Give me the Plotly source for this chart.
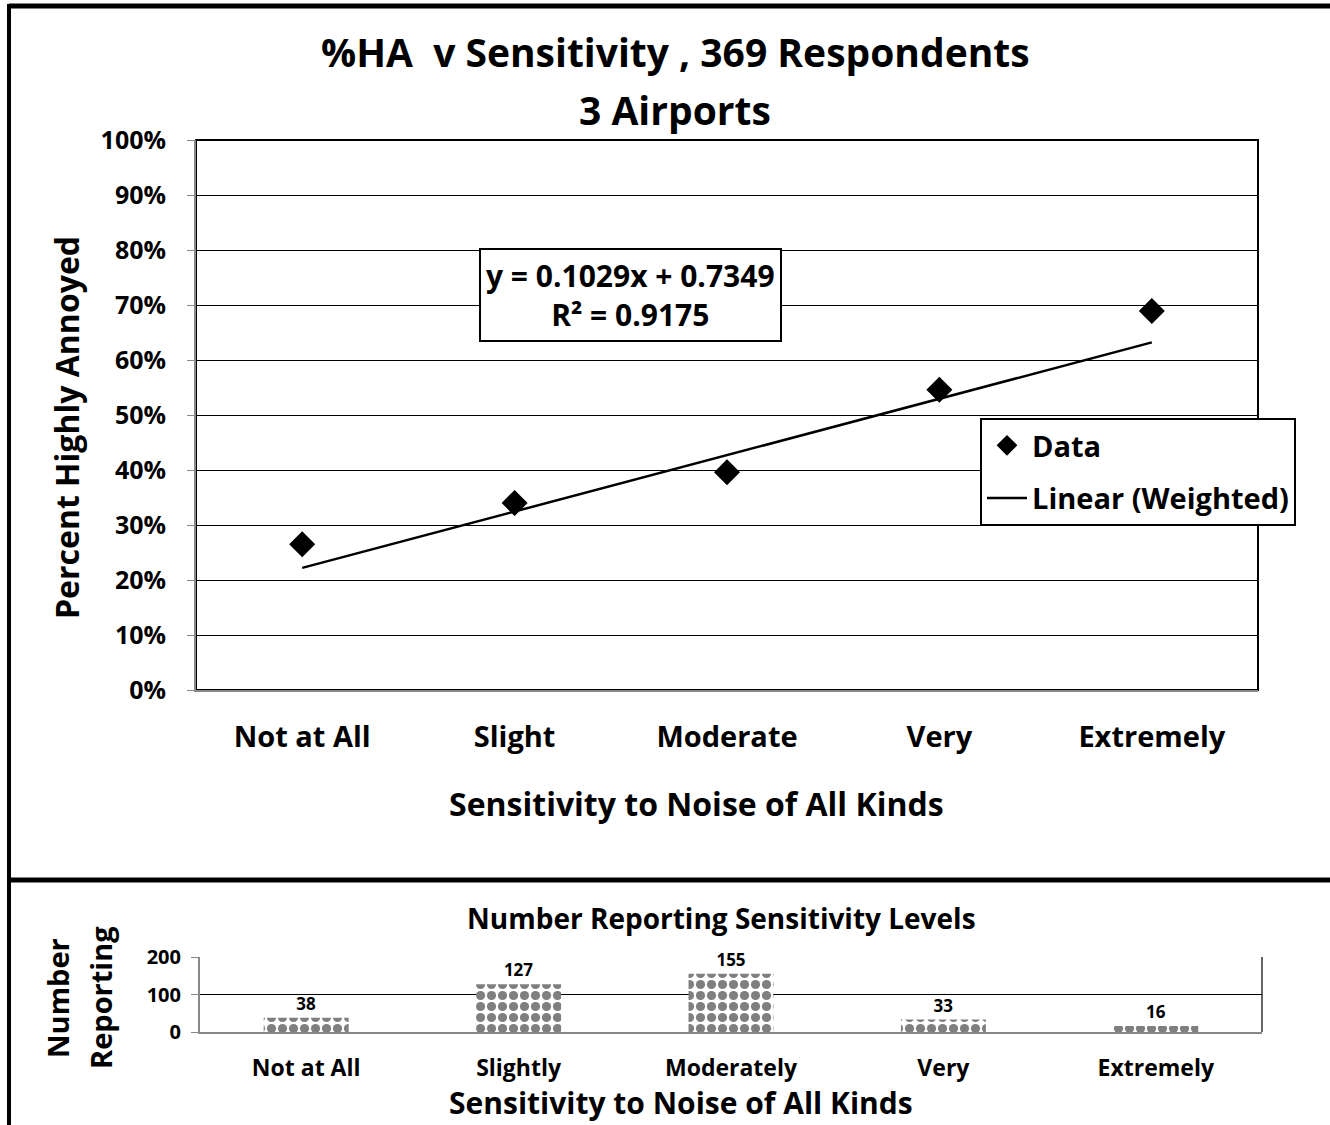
import plotly.graph_objects as go

# top chart data
levels = ['Not at All', 'Slight', 'Moderate', 'Very', 'Extremely']
pct_ha = [0.265, 0.340, 0.396, 0.546, 0.689]
trend_x = ['Not at All', 'Extremely']
trend_y = [0.222, 0.632]

# bottom chart data
levels2 = ['Not at All', 'Slightly', 'Moderately', 'Very', 'Extremely']
n_reporting = [38, 127, 155, 33, 16]

FONT = 'Open Sans'
W, H = 1330, 1125


def px(x):
    return x / W


def py(y):
    return 1 - y / H


fig = go.Figure()

fig.add_trace(go.Scatter(
    x=levels, y=pct_ha, mode='markers', name='Data', legendgroup='a',
    marker=dict(symbol='diamond', size=20, color='black'),
    xaxis='x', yaxis='y',
))
fig.add_trace(go.Scatter(
    x=trend_x, y=trend_y, mode='lines', name='Linear (Weighted)', legendgroup='b',
    line=dict(color='black', width=2.5),
    xaxis='x', yaxis='y',
))

fig.add_trace(go.Bar(
    x=levels2, y=n_reporting, showlegend=False,
    text=[str(v) for v in n_reporting], textposition='outside',
    textfont=dict(family=FONT, size=17, color='black', weight='bold'),
    marker=dict(color='white', line=dict(width=0),
                pattern=dict(shape='.', fgcolor='black', bgcolor='white', size=11, solidity=0.55)),
    cliponaxis=False,
    xaxis='x2', yaxis='y2',
))

fig.update_layout(
    width=W, height=H,
    margin=dict(l=0, r=0, t=0, b=0, autoexpand=False),
    paper_bgcolor='white', plot_bgcolor='white',
    font=dict(family=FONT, color='black'),
    bargap=0.6,
    legend=dict(
        x=px(980), y=py(418), xanchor='left', yanchor='top',
        bgcolor='white', bordercolor='black', borderwidth=2,
        font=dict(family=FONT, size=29, color='black', weight='bold'),
        itemwidth=40, traceorder='grouped', tracegroupgap=12,
    ),
    xaxis=dict(
        domain=[px(196), px(1258)], anchor='y', range=[-0.5, 4.5], automargin=False,
        type='category', categoryorder='array', categoryarray=levels,
        showline=True, linecolor='#888', linewidth=2, showgrid=False, ticks='',
        tickfont=dict(family=FONT, size=29, weight='bold'), ticklabelstandoff=20,
    ),
    yaxis=dict(
        domain=[py(690), py(140)], anchor='x', range=[0, 1], automargin=False,
        tickvals=[i / 10 for i in range(11)], tickformat='.0%',
        showline=True, linecolor='#888', linewidth=2,
        showgrid=True, gridcolor='black', gridwidth=1.2,
        ticks='outside', ticklen=7, tickcolor='#888',
        tickfont=dict(family=FONT, size=25, weight='bold'), ticklabelstandoff=16,
        zeroline=False,
    ),
    xaxis2=dict(
        domain=[px(200), px(1262)], anchor='y2', range=[-0.5, 4.5], automargin=False,
        type='category', categoryorder='array', categoryarray=levels2,
        showline=True, linecolor='#888', linewidth=2, showgrid=False, ticks='',
        tickfont=dict(family=FONT, size=23, weight='bold'), ticklabelstandoff=14,
    ),
    yaxis2=dict(
        domain=[py(1032), py(957)], anchor='x2', range=[0, 200], automargin=False,
        tickvals=[0, 100, 200],
        showline=True, linecolor='#888', linewidth=2,
        showgrid=True, gridcolor='black', gridwidth=1.2,
        ticks='outside', ticklen=7, tickcolor='#888',
        tickfont=dict(family=FONT, size=20, weight='bold'), ticklabelstandoff=6,
        zeroline=False,
    ),
)

annotations = [
    dict(text='%HA  v Sensitivity , 369 Respondents', x=px(675), y=py(52),
         font=dict(size=39, weight='bold')),
    dict(text='3 Airports', x=px(675), y=py(110),
         font=dict(size=39, weight='bold')),
    dict(text='y = 0.1029x + 0.7349<br>R² = 0.9175', x=px(630), y=py(295),
         font=dict(size=30, weight='bold'), bordercolor='black', borderwidth=2,
         borderpad=5, bgcolor='white'),
    dict(text='Percent Highly Annoyed', x=px(67), y=py(428), textangle=-90,
         font=dict(size=32, weight='bold')),
    dict(text='Sensitivity to Noise of All Kinds', x=px(696), y=py(803),
         font=dict(size=32, weight='bold')),
    dict(text='Number Reporting Sensitivity Levels', x=px(721), y=py(918),
         font=dict(size=28, weight='bold')),
    dict(text='Number', x=px(57), y=py(998), textangle=-90,
         font=dict(size=29, weight='bold')),
    dict(text='Reporting', x=px(100), y=py(998), textangle=-90,
         font=dict(size=29, weight='bold')),
    dict(text='Sensitivity to Noise of All Kinds', x=px(681), y=py(1102),
         font=dict(size=30, weight='bold')),
]
for a in annotations:
    a.update(xref='paper', yref='paper', showarrow=False, xanchor='center', yanchor='middle')
    a['font'].update(family=FONT, color='black')
    fig.add_annotation(**a)

shapes = [
    # frame of the upper panel
    dict(type='line', x0=px(9), x1=1, y0=py(6), y1=py(6), line=dict(color='black', width=5)),
    dict(type='line', x0=px(9), x1=px(9), y0=py(4), y1=py(882), line=dict(color='black', width=4)),
    # frame of the lower panel
    dict(type='line', x0=px(9), x1=1, y0=py(880), y1=py(880), line=dict(color='black', width=5)),
    dict(type='line', x0=px(9), x1=px(9), y0=py(878), y1=0, line=dict(color='black', width=4)),
    # plot area borders
    dict(type='rect', xref='x domain', yref='y domain', x0=0, x1=1, y0=0, y1=1,
         line=dict(color='black', width=2)),
    dict(type='line', xref='x2 domain', yref='y2 domain', x0=1, x1=1, y0=0, y1=1,
         line=dict(color='#666', width=2)),
]
for s in shapes:
    s.setdefault('xref', 'paper')
    s.setdefault('yref', 'paper')
    s['layer'] = 'above' if s['xref'] == 'paper' else 'below'
    fig.add_shape(**s)

fig.write_html('out.html', config={'displayModeBar': False},
               post_script="document.body.style.margin = '0';")
